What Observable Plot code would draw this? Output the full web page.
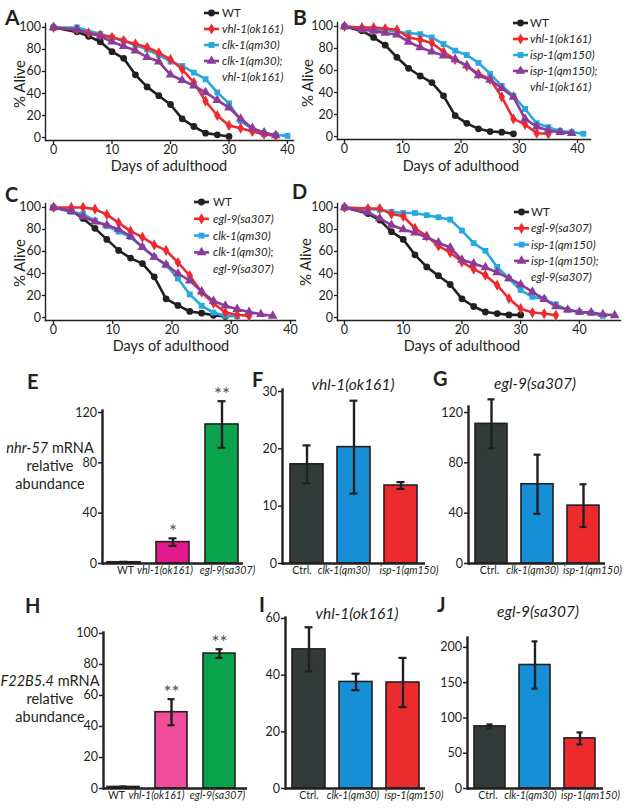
<!DOCTYPE html>
<html><head><meta charset="utf-8">
<script src="https://cdn.jsdelivr.net/npm/d3@7"></script>
<script src="https://cdn.jsdelivr.net/npm/@observablehq/plot@0.6"></script>
<style>
body{margin:0;background:#fff;}
#fig{position:relative;width:627px;height:808px;overflow:hidden;background:#fff;}
.surv g[aria-label="x-axis tick label"], .surv g[aria-label="y-axis tick label"], .bars g[aria-label="y-axis tick label"]{font-size:12.5px;}
.bars g[aria-label="x-axis tick label"]{font-size:10.5px;}
</style></head>
<body><div id="fig"></div>
<script>
// ---------- DATA: survival curves (day, % alive) ----------
const A_wt_day  = [0,4,6,8,10,12,14,16,18,20,22,24,26,28,30];
const A_wt_pct  = [100,96,92,87,78,72,57,46,38,30,17,10,4,2.5,1];
const A_vhl_day = [0,4,6,8,10,12,14,16,18,20,22,24,26,28,30,32,34,36,38];
const A_vhl_pct = [100,98,95,93,91,88,85,82,77,71,62,50,33,20,11,8.5,5.5,3,1.5];
const A_clk_day = [0,4,8,10,12,14,16,18,20,22,24,26,28,30,32,34,36,38,40];
const A_clk_pct = [100,100,94,91,88,84,80,75,69,65,59,53,41,31,15,7.5,3,2.5,1.5];
const A_dbl_day = [0,4,8,10,12,14,16,18,20,22,24,26,28,30,32,34,36,38];
const A_dbl_pct = [100,98,92,87,83,79,73,69,57,52,47,41,34,27,17,8.5,4.5,2];

const B_wt_day  = [0,3,5,7,9,11,13,15,17,19,21,23,25,27,29];
const B_wt_pct  = [100,96,90,83,72,62,55,49,37,19,12,7,4.5,4,2.5];
const B_vhl_day = [0,3,5,7,9,11,13,15,17,19,21,23,25,27,29,31,33,35];
const B_vhl_pct = [100,99,99,98,97,90,88,85,77,70,64,57,52,36,16,11,3,2.5];
const B_isp_day = [0,3,5,7,9,11,13,15,17,19,21,23,25,27,29,31,33,35,37,39,41];
const B_isp_pct = [100,98,97,97,95,94,93,90,84,78,74,67,57,46,37,25,12,8.5,5,4,2.5];
const B_dbl_day = [0,3,5,7,9,11,13,15,17,19,21,23,25,27,29,31,33,35,37,39];
const B_dbl_pct = [100,97,96,94,92.5,86,81,77,73.5,70,64.5,55.5,51.5,44,36,16,9,5.5,4,3];

const C_wt_day  = [0,3,5,7,9,11,13,15,17,19,21,23,25,27,29];
const C_wt_pct  = [100,97,90,81,71,61,54,49,37,17,11,5.5,4,2,1];
const C_egl_day = [0,3,5,7,9,11,13,15,17,19,21,23,25,27,29,31,33];
const C_egl_pct = [100,100,100,98.5,93.5,86,78.5,73,66,61,50,38,23,13,4.5,2.5,1.5];
const C_clk_day = [0,3,5,7,9,11,13,15,17,19,21,23,25,27,29,31];
const C_clk_pct = [100,96,94,88,83,78,73,64,55,47.5,35.5,21,10.7,4.5,1.5,1];
const C_dbl_day = [0,3,5,7,9,11,13,15,17,19,21,23,25,27,29,31,33,35,37];
const C_dbl_pct = [100,96.5,91.5,87,84,80,74,64,55,48,40,33.5,23.5,15,10.7,7.6,5,3,1.5];

const D_wt_day  = [0,4,6,8,10,12,14,16,18,20,22,24,26,28,30];
const D_wt_pct  = [100,94.5,88.5,78,71,57,46,38,30,17,10,5,3.6,2.4,2.4];
const D_egl_day = [0,4,6,8,10,12,14,16,18,20,22,24,26,28,30,32,34,36];
const D_egl_pct = [100,99,99,94,92,81,74,65,59,50.6,44,38.5,29.4,17.3,8,4.5,3.6,2];
const D_isp_day = [0,4,6,8,10,12,14,16,18,20,22,24,26,28,30,32,34,36,38,40,42,44];
const D_isp_pct = [100,98.5,98,96,95,95,93,91,89,79,67.6,60.6,46,35.5,25,18.8,16.7,12,7,5,4,1.5];
const D_dbl_day = [0,4,6,8,10,12,14,16,18,20,22,24,26,28,30,32,34,36,38,40,42,44,46];
const D_dbl_pct = [100,95.5,90,84,80,77,73,68,63.6,52.4,49,45.5,41,35.5,30,23.3,16.7,10,7,5,4.5,3,2];

const survXTicks = [0,10,20,30,40];
const survYTicks = [0,20,40,60,80,100];

// ---------- DATA: qPCR bars ----------
const E_cat = ["WT","vhl-1(ok161)","egl-9(sa307)"];
const E_val = [1, 17, 110.5];
const E_err = [0.3, 3, 18.5];
const E_star = ["","*","**"];
const E_ticks = [0,40,80,120];

const FGIJ_cat = ["Ctrl.","clk-1(qm30)","isp-1(qm150)"];
const F_val = [17.3, 20.3, 13.6];
const F_err = [3.3, 8.1, 0.6];
const F_ticks = [0,10,20,30];
const G_val = [111, 63, 46];
const G_err = [19.5, 23.5, 17];
const G_ticks = [0,40,80,120];

const H_cat = ["WT","vhl-1(ok161)","egl-9(sa307)"];
const H_val = [1, 49.2, 87];
const H_err = [0.3, 8.4, 2.8];
const H_star = ["","**","**"];
const H_ticks = [0,20,40,60,80,100];
const I_val = [49.1, 37.6, 37.4];
const I_err = [7.8, 2.9, 8.7];
const I_ticks = [0,20,40,60];
const J_val = [88, 175, 71];
const J_err = [2.8, 33.5, 8.5];
const J_ticks = [0,50,100,150,200];

// ---------- STYLE ----------
const FONT = "Lato, 'Open Sans', sans-serif";
const INK = "#231f20";
const C_BLACK = "#231f20", C_RED = "#ee2a2e", C_BLUE = "#29a8e0", C_PURPLE = "#8c3b98";
const BAR_DARK = "#323b3a", BAR_BLUE = "#168fd6", BAR_RED = "#ec2b2f", BAR_MAG = "#e2198b", BAR_PINK = "#ef4c9b", BAR_GREEN = "#0ba24c";
const SYM = {wt:["circle",3.4], red:["diamond",3.4], blue:["square",3.3], purple:["triangle",3.6]};
const TICK_FS = 12.5;

const fig = document.getElementById("fig");
function place(el, x, y){ el.style.position="absolute"; el.style.left=x+"px"; el.style.top=y+"px"; fig.appendChild(el); }

function survival(box, frame, xDomain, series){
  const [bx,by,bw,bh] = box, [fl,ft,fr,fb] = frame;
  const marks = [];
  for (const s of series){
    const data = s.days.map((d,i)=>({day:d, pct:s.pct[i]}));
    marks.push(Plot.line(data,{x:"day",y:"pct",stroke:s.color,strokeWidth:2.6,strokeLinejoin:"round"}));
    marks.push(Plot.dot(data,{x:"day",y:"pct",symbol:SYM[s.sym][0],r:SYM[s.sym][1],fill:s.color,stroke:"none"}));
  }
  const p = Plot.plot({
    className:"surv",
    width:bw, height:bh,
    marginLeft:fl-bx, marginRight:bx+bw-fr, marginTop:ft-by, marginBottom:by+bh-fb,
    x:{domain:xDomain}, y:{domain:[-2.7,103.6]},
    style:{background:"none",fontFamily:FONT,fontSize:TICK_FS+"px",color:INK,overflow:"visible"},
    marks:[
      Plot.frame({anchor:"left",strokeWidth:1.4,stroke:INK}),
      Plot.frame({anchor:"bottom",strokeWidth:1.4,stroke:INK}),
      Plot.axisX({ticks:survXTicks,tickSize:4,tickPadding:1,label:null,strokeWidth:1.3,fontSize:TICK_FS}),
      Plot.axisY({ticks:survYTicks,tickSize:3,tickPadding:1.5,label:null,strokeWidth:1.3,fontSize:TICK_FS}),
      ...marks
    ]
  });
  place(p,bx,by);
}

function bars(box, frame, cats, vals, errs, colors, stars, yDomain, yTicks, padIn, padOut, align, labelDx){
  const [bx,by,bw,bh] = box, [fl,ft,fr,fb] = frame;
  const data = cats.map((c,i)=>({cat:c,val:vals[i],lo:vals[i]-errs[i],hi:vals[i]+errs[i],color:colors[i],star:stars?stars[i]:""}));
  const labelAxes = cats.map((c,i)=>Plot.axisX({ticks:[c],tickSize:0,tickPadding:3,fontSize:10.5,
    fontStyle:i===0?"normal":"italic",dx:labelDx[i],label:null}));
  const p = Plot.plot({
    className:"bars",
    width:bw, height:bh,
    marginLeft:fl-bx, marginRight:bx+bw-fr, marginTop:ft-by, marginBottom:by+bh-fb,
    x:{domain:cats,paddingInner:padIn,paddingOuter:padOut,align:align},
    y:{domain:yDomain},
    color:{type:"identity"},
    style:{background:"none",fontFamily:FONT,fontSize:TICK_FS+"px",color:INK,overflow:"visible"},
    marks:[
      Plot.barY(data,{x:"cat",y:"val",fill:"color",stroke:INK,strokeWidth:1.6}),
      Plot.ruleX(data,{x:"cat",y1:"lo",y2:"hi",stroke:INK,strokeWidth:2.4}),
      Plot.tickY(data,{x:"cat",y:"lo",stroke:INK,strokeWidth:2.2,insetLeft:12.5,insetRight:12.5}),
      Plot.tickY(data,{x:"cat",y:"hi",stroke:INK,strokeWidth:2.2,insetLeft:12.5,insetRight:12.5}),
      Plot.text(data.filter(d=>d.star),{x:"cat",y:"hi",text:"star",dy:-6,fontSize:19,fill:"#4f4f51"}),
      Plot.ruleY([0],{stroke:INK,strokeWidth:2.4}),
      Plot.frame({anchor:"left",stroke:INK,strokeWidth:2.4}),
      Plot.axisY({ticks:yTicks,tickSize:4,tickPadding:1.5,label:null,strokeWidth:1.5,fontSize:TICK_FS}),
      ...labelAxes
    ]
  });
  place(p,bx,by);
}

// ---------- Survival panels ----------
survival([0,0,312,162],[45,23,293,140],[-1.37,41.03],[
  {days:A_wt_day,pct:A_wt_pct,color:C_BLACK,sym:"wt"},
  {days:A_clk_day,pct:A_clk_pct,color:C_BLUE,sym:"blue"},
  {days:A_vhl_day,pct:A_vhl_pct,color:C_RED,sym:"red"},
  {days:A_dbl_day,pct:A_dbl_pct,color:C_PURPLE,sym:"purple"}]);
survival([313,0,314,162],[337,22,590,139],[-1.2,42.23],[
  {days:B_wt_day,pct:B_wt_pct,color:C_BLACK,sym:"wt"},
  {days:B_isp_day,pct:B_isp_pct,color:C_BLUE,sym:"blue"},
  {days:B_vhl_day,pct:B_vhl_pct,color:C_RED,sym:"red"},
  {days:B_dbl_day,pct:B_dbl_pct,color:C_PURPLE,sym:"purple"}]);
survival([0,170,312,172],[45,203,295,320],[-1.35,40.84],[
  {days:C_wt_day,pct:C_wt_pct,color:C_BLACK,sym:"wt"},
  {days:C_clk_day,pct:C_clk_pct,color:C_BLUE,sym:"blue"},
  {days:C_egl_day,pct:C_egl_pct,color:C_RED,sym:"red"},
  {days:C_dbl_day,pct:C_dbl_pct,color:C_PURPLE,sym:"purple"}]);
survival([313,170,314,172],[337,203,620,320],[-1.19,47.0],[
  {days:D_wt_day,pct:D_wt_pct,color:C_BLACK,sym:"wt"},
  {days:D_isp_day,pct:D_isp_pct,color:C_BLUE,sym:"blue"},
  {days:D_egl_day,pct:D_egl_pct,color:C_RED,sym:"red"},
  {days:D_dbl_day,pct:D_dbl_pct,color:C_PURPLE,sym:"purple"}]);

// ---------- Bar panels ----------
const rowCols = [BAR_DARK,BAR_BLUE,BAR_RED];
bars([60,395,195,190],[102,410,243,563],E_cat,E_val,E_err,[BAR_DARK,BAR_MAG,BAR_GREEN],E_star,[0,121.6],E_ticks,0.327,0.1,0.5,[1.5,-8,5.5]);
bars([250,380,180,205],[282,389,425,563],FGIJ_cat,F_val,F_err,rowCols,null,[0,30.35],F_ticks,0.305,0.158,0.5,[-5,-10,8]);
bars([432,395,195,190],[468,406,605,563],FGIJ_cat,G_val,G_err,rowCols,null,[0,124.8],G_ticks,0.312,0.129,0.5,[-2,-5,9]);
bars([60,625,195,183],[103,632,247,788],H_cat,H_val,H_err,[BAR_DARK,BAR_PINK,BAR_GREEN],H_star,[0,100.6],H_ticks,0.34,0.155,0.27,[-7,-15,-2]);
bars([250,610,180,198],[285,617,425,788],FGIJ_cat,I_val,I_err,rowCols,null,[0,60.35],I_ticks,0.30,0.13,0.5,[0,-3,11]);
bars([430,630,197,178],[467,637,603,788],FGIJ_cat,J_val,J_err,rowCols,null,[0,214],J_ticks,0.31,0.14,0.5,[-2,-4.5,10.5]);

// ---------- Overlay text: letters, labels, legends, titles ----------
const ov = d3.create("svg").attr("width",627).attr("height",808)
  .style("position","absolute").style("left","0px").style("top","0px")
  .style("font-family",FONT).attr("fill",INK).style("pointer-events","none");
function txt(x,y,s,o={}){
  const t = ov.append("text").attr("x",x).attr("y",y).text(s)
    .attr("font-size",o.size||12).attr("text-anchor",o.anchor||"start");
  if(o.bold) t.attr("font-weight","bold");
  if(o.italic) t.attr("font-style","italic");
  if(o.rotate) t.attr("transform",`rotate(-90,${x},${y})`);
  return t;
}
// panel letters
const letters = [["A",5,25,21],["B",293,25,21],["C",5,202,20],["D",292,199,20],["E",27,389,20],["F",252,387,20],["G",433,386,20],["H",25,613,20],["I",259,612,20],["J",437,612,20]];
for(const [l,x,y,s] of letters) txt(x,y,l,{size:s,bold:true});
// % Alive
for(const [x,y] of [[25,84],[313,83],[25,263],[311,262]]) txt(x,y,"% Alive",{size:15,anchor:"middle",rotate:true});
// Days of adulthood
for(const [x,y] of [[169,171],[461,171],[171,351],[462,351]]) txt(x,y,"Days of adulthood",{size:14.5,anchor:"middle"});
// titles
txt(353,390,"vhl-1(ok161)",{size:15.5,italic:true,anchor:"middle"});
txt(535,389,"egl-9(sa307)",{size:15.5,italic:true,anchor:"middle"});
txt(357,619,"vhl-1(ok161)",{size:15.5,italic:true,anchor:"middle"});
txt(538,617,"egl-9(sa307)",{size:15.5,italic:true,anchor:"middle"});
// y labels E and H
function mrna(gene, y0){
  const t = txt(50,y0,"",{size:14.5,anchor:"middle"});
  t.append("tspan").attr("font-style","italic").text(gene);
  t.append("tspan").text(" mRNA");
  txt(50,y0+18,"relative",{size:14.5,anchor:"middle"});
  txt(50,y0+36,"abundance",{size:14.5,anchor:"middle"});
}
mrna("nhr-57",453);
mrna("F22B5.4",686);
// legends
function legend(x1,x2,tx,y0,dy,items,cont){
  items.forEach((it,i)=>{
    const y = y0+i*dy;
    ov.append("line").attr("x1",x1).attr("x2",x2).attr("y1",y).attr("y2",y).attr("stroke",it.color).attr("stroke-width",2.6);
    const [name,r] = SYM[it.sym];
    const type = {circle:d3.symbolCircle,diamond:d3.symbolDiamond,square:d3.symbolSquare,triangle:d3.symbolTriangle}[name];
    ov.append("path").attr("d",d3.symbol(type,Math.PI*r*r)()).attr("transform",`translate(${(x1+x2)/2},${y})`).attr("fill",it.color);
    txt(tx,y+4,it.label,{size:11.5,italic:it.italic});
  });
  txt(tx,y0+items.length*dy+4,cont,{size:11.5,italic:true});
}
legend(204,219,222,13,16,[
  {label:"WT",color:C_BLACK,sym:"wt"},
  {label:"vhl-1(ok161)",color:C_RED,sym:"red",italic:true},
  {label:"clk-1(qm30)",color:C_BLUE,sym:"blue",italic:true},
  {label:"clk-1(qm30);",color:C_PURPLE,sym:"purple",italic:true}],"vhl-1(ok161)");
legend(513,528,530,23,16,[
  {label:"WT",color:C_BLACK,sym:"wt"},
  {label:"vhl-1(ok161)",color:C_RED,sym:"red",italic:true},
  {label:"isp-1(qm150)",color:C_BLUE,sym:"blue",italic:true},
  {label:"isp-1(qm150);",color:C_PURPLE,sym:"purple",italic:true}],"vhl-1(ok161)");
legend(194,209,213,202,16.8,[
  {label:"WT",color:C_BLACK,sym:"wt"},
  {label:"egl-9(sa307)",color:C_RED,sym:"red",italic:true},
  {label:"clk-1(qm30)",color:C_BLUE,sym:"blue",italic:true},
  {label:"clk-1(qm30);",color:C_PURPLE,sym:"purple",italic:true}],"egl-9(sa307)");
legend(514,529,531,212,16.3,[
  {label:"WT",color:C_BLACK,sym:"wt"},
  {label:"egl-9(sa307)",color:C_RED,sym:"red",italic:true},
  {label:"isp-1(qm150)",color:C_BLUE,sym:"blue",italic:true},
  {label:"isp-1(qm150);",color:C_PURPLE,sym:"purple",italic:true}],"egl-9(sa307)");
fig.appendChild(ov.node());
</script>
</body></html>
